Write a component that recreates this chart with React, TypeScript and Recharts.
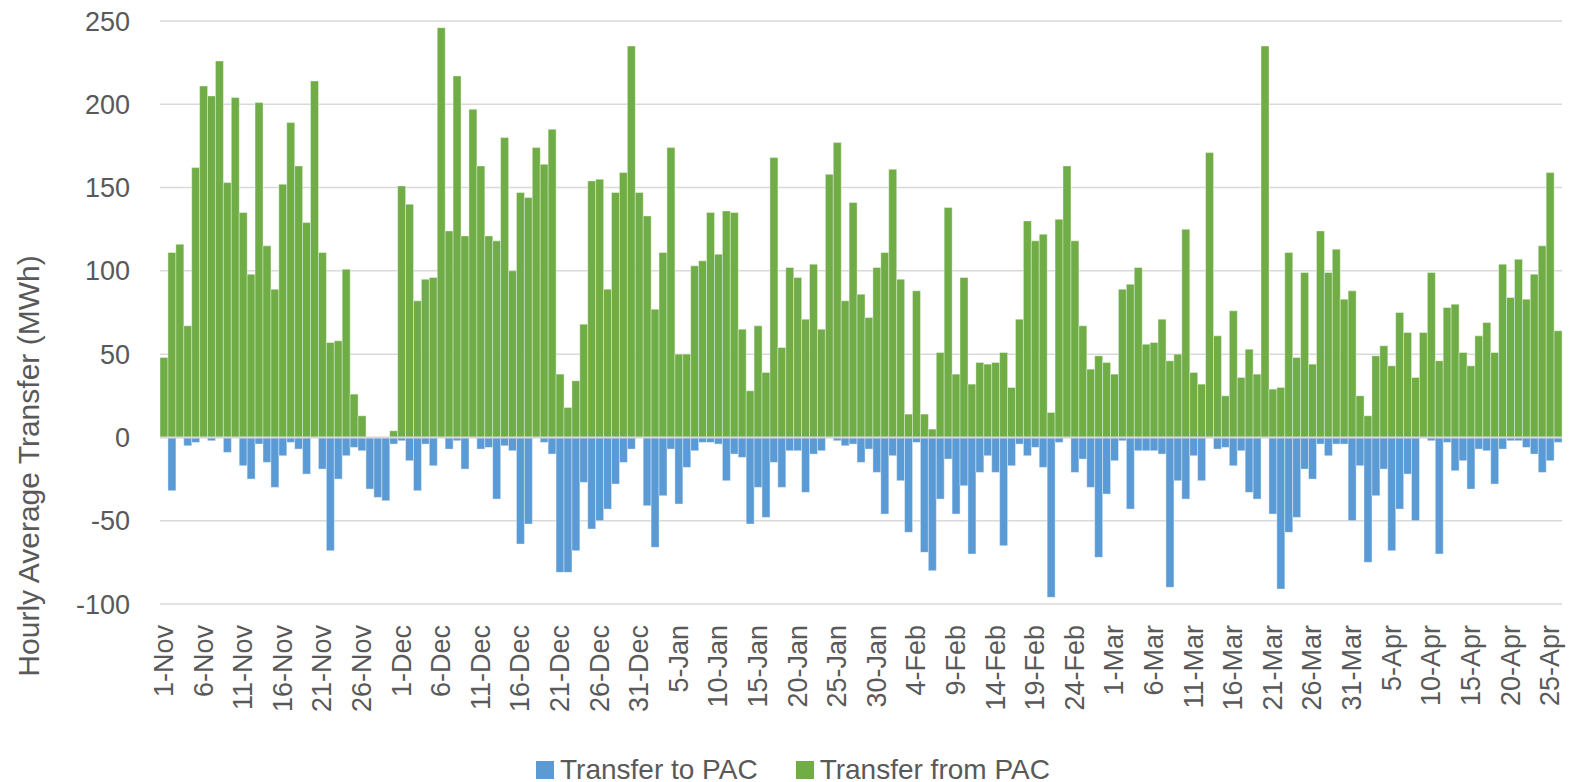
import React from "react";
import {
  Bar,
  BarChart,
  CartesianGrid,
  Legend,
  ReferenceLine,
  XAxis,
  YAxis,
} from "recharts";

// month name + number of days shown (1-Nov .. 26-Apr)
const months: [string, number][] = [
  ["Nov", 30],
  ["Dec", 31],
  ["Jan", 31],
  ["Feb", 28],
  ["Mar", 31],
  ["Apr", 26],
];

const dates: string[] = months.flatMap(([m, n]) =>
  Array.from({ length: n }, (_, i) => `${i + 1}-${m}`)
);

// Transfer from PAC (MWh, positive)
const transferFrom = [
  48, 111, 116, 67, 162, 211, 205, 226, 153, 204, 135, 98, 201, 115, 89, 152,
  189, 163, 129, 214, 111, 57, 58, 101, 26, 13, 0, 0, 0, 4,
  151, 140, 82, 95, 96, 246, 124, 217, 121, 197, 163, 121, 118, 180, 100, 147,
  144, 174, 164, 185, 38, 18, 34, 68, 154, 155, 89, 147, 159, 235, 147,
  133, 77, 111, 174, 50, 50, 103, 106, 135, 110, 136, 135, 65, 28, 67, 39,
  168, 54, 102, 96, 71, 104, 65, 158, 177, 82, 141, 86, 72, 102, 111,
  161, 95, 14, 88, 14, 5, 51, 138, 38, 96, 32, 45, 44, 45, 51, 30, 71, 130,
  118, 122, 15, 131, 163, 118, 67, 41, 49, 45,
  38, 89, 92, 102, 56, 57, 71, 46, 50, 125, 39, 32, 171, 61, 25, 76, 36, 53,
  38, 235, 29, 30, 111, 48, 99, 44, 124, 99, 113, 83, 88,
  25, 13, 49, 55, 43, 75, 63, 36, 63, 99, 46, 78, 80, 51, 43, 61, 69, 51,
  104, 84, 107, 83, 98, 115, 159, 64,
];

// Transfer to PAC (MWh, negative)
const transferTo = [
  0, -32, 0, -5, -3, 0, -2, 0, -9, 0, -17, -25, -4, -15, -30, -11, -3, -7,
  -22, 0, -19, -68, -25, -11, -6, -8, -31, -36, -38, -4,
  -2, -14, -32, -4, -17, 0, -7, -2, -19, 0, -7, -6, -37, -5, -8, -64, -52, 0,
  -3, -10, -81, -81, -68, -27, -55, -50, -43, -28, -15, -7, 0,
  -41, -66, -35, -7, -40, -18, -8, -3, -3, -4, -26, -10, -12, -52, -30, -48,
  -15, -30, -8, -8, -33, -10, -8, 0, -2, -5, -4, -15, -7, -21, -46,
  -11, -26, -57, -3, -69, -80, -37, -13, -46, -29, -70, -21, -11, -21, -65,
  -17, -4, -11, -6, -18, -96, -3, 0, -21, -13, -30, -72, -34,
  -14, -2, -43, -8, -8, -8, -10, -90, -26, -37, -11, -26, 0, -7, -6, -17, -8,
  -33, -37, 0, -46, -91, -57, -48, -19, -25, -4, -11, -4, -4, -50,
  -17, -75, -35, -19, -68, -43, -22, -50, 0, -2, -70, -3, -20, -14, -31, -7,
  -8, -28, -7, -2, -2, -6, -10, -21, -14, -3,
];

const yTicks = [-100, -50, 0, 50, 100, 150, 200, 250];
const seriesNames = ["Transfer to PAC", "Transfer from PAC"];

const data = dates.map((date, i) => ({
  date,
  to: transferTo[i],
  from: transferFrom[i],
}));

const BLUE = "#5B9BD5";
const GREEN = "#70AD47";
const TEXT = "#595959";
const FONT = "'Liberation Sans', Arial, sans-serif";

const DateTick = (props: any) => {
  const { x, y, payload } = props;
  const ty = y + 21;
  return (
    <text
      x={x}
      y={ty}
      transform={`rotate(-90, ${x}, ${ty})`}
      textAnchor="end"
      dominantBaseline="central"
      fontSize={27}
      fontFamily={FONT}
      fill={TEXT}
    >
      {payload.value}
    </text>
  );
};

const renderLegend = (props: any) => {
  const items = [...(props.payload || [])].sort(
    (a: any, b: any) => seriesNames.indexOf(a.value) - seriesNames.indexOf(b.value)
  );
  return (
    <div
      style={{
        display: "flex",
        alignItems: "center",
        height: 30,
        paddingLeft: 536,
        fontSize: 28,
        fontFamily: FONT,
        color: TEXT,
      }}
    >
      {items.map((it: any, i: number) => (
        <React.Fragment key={it.value}>
          <span
            style={{
              display: "inline-block",
              width: 18,
              height: 18,
              background: it.color,
              marginLeft: i > 0 ? 38 : 0,
              marginRight: 6,
            }}
          />
          <span>{it.value}</span>
        </React.Fragment>
      ))}
    </div>
  );
};

export default function App() {
  return (
    <div
      style={{
        position: "absolute",
        left: 0,
        top: 0,
        width: 1569,
        height: 782,
        background: "#fff",
        fontFamily: FONT,
      }}
    >
      <BarChart
        width={1569}
        height={782}
        data={data}
        margin={{ top: 21, right: 7, left: 0, bottom: 0 }}
        barCategoryGap={0}
        barGap={0}
        stackOffset="sign"
      >
        <CartesianGrid
          vertical={false}
          stroke="#D9D9D9"
          strokeWidth={1.5}
        />
        <XAxis
          dataKey="date"
          interval={4}
          height={178}
          tickSize={0}
          tickMargin={0}
          tickLine={false}
          axisLine={false}
          tick={<DateTick />}
        />
        <YAxis
          type="number"
          domain={[-100, 250]}
          ticks={yTicks}
          interval={0}
          width={160}
          tickSize={0}
          tickMargin={30}
          tickLine={false}
          axisLine={false}
          tick={{ fontSize: 27, fill: TEXT, fontFamily: FONT }}
        />
        <Bar
          dataKey="to"
          name={seriesNames[0]}
          stackId="a"
          fill={BLUE}
          stroke="#ffffff"
          strokeWidth={0.4}
          isAnimationActive={false}
        />
        <Bar
          dataKey="from"
          name={seriesNames[1]}
          stackId="a"
          fill={GREEN}
          stroke="#ffffff"
          strokeWidth={0.4}
          isAnimationActive={false}
        />
        <ReferenceLine y={0} stroke="#D9D9D9" strokeWidth={2} />
        <Legend
          verticalAlign="middle"
          align="center"
          content={renderLegend}
          wrapperStyle={{ top: 755, left: 0, width: 1569, height: 30 }}
        />
      </BarChart>
      <div
        style={{
          position: "absolute",
          left: 29,
          top: 466,
          transform: "translate(-50%, -50%) rotate(-90deg)",
          whiteSpace: "nowrap",
          fontSize: 30,
          lineHeight: 1,
          color: TEXT,
          fontFamily: FONT,
        }}
      >
        Hourly Average Transfer (MWh)
      </div>
    </div>
  );
}
